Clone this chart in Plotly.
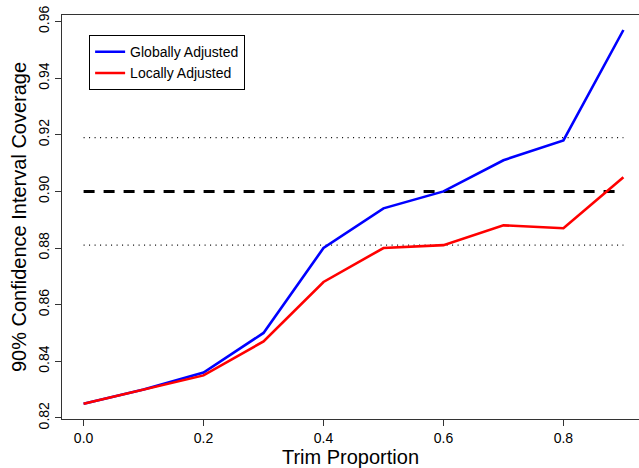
import plotly.graph_objects as go

trim = [0.0, 0.1, 0.2, 0.3, 0.4, 0.5, 0.6, 0.7, 0.8, 0.9]
global_adj = [0.825, 0.830, 0.836, 0.850, 0.880, 0.894, 0.900, 0.911, 0.918, 0.957]
local_adj = [0.825, 0.830, 0.835, 0.847, 0.868, 0.880, 0.881, 0.888, 0.887, 0.905]
ref_x = [0.0, 0.9]
nominal = 0.90
band_low = 0.881
band_high = 0.919
x_ticks = [0.0, 0.2, 0.4, 0.6, 0.8]
x_ticklabels = ["0.0", "0.2", "0.4", "0.6", "0.8"]
y_ticks = [0.82, 0.84, 0.86, 0.88, 0.90, 0.92, 0.94, 0.96]
y_ticklabels = ["0.82", "0.84", "0.86", "0.88", "0.90", "0.92", "0.94", "0.96"]

FONT = "Liberation Sans, Arial, Helvetica, sans-serif"

fig = go.Figure()
for yv in (band_high, band_low):
    fig.add_trace(go.Scatter(x=ref_x, y=[yv, yv], mode="lines",
                             line=dict(color="black", width=1.2, dash="1px,4.5px"),
                             showlegend=False, hoverinfo="skip"))
fig.add_trace(go.Scatter(x=ref_x, y=[nominal, nominal], mode="lines",
                         line=dict(color="black", width=3, dash="11px,9px"),
                         showlegend=False, hoverinfo="skip"))
fig.add_trace(go.Scatter(x=trim, y=global_adj, mode="lines", name="Globally Adjusted",
                         line=dict(color="#0000FF", width=2.6)))
fig.add_trace(go.Scatter(x=trim, y=local_adj, mode="lines", name="Locally Adjusted",
                         line=dict(color="#FF0000", width=2.6)))

fig.update_layout(
    width=639, height=468,
    margin=dict(l=62, r=0, t=15, b=49),
    paper_bgcolor="white", plot_bgcolor="white",
    font=dict(family=FONT, size=14, color="black"),
    legend=dict(x=0.047, y=0.95, xanchor="left", yanchor="top",
                bordercolor="black", borderwidth=1, bgcolor="white",
                font=dict(size=14), traceorder="normal", tracegroupgap=0),
    showlegend=True,
)
fig.update_xaxes(range=[-0.036, 0.926], tickvals=x_ticks, ticktext=x_ticklabels,
                 showgrid=False, zeroline=False, showline=True, linecolor="#333333",
                 linewidth=1, mirror=True, ticks="outside", ticklen=6, tickcolor="#333333",
                 title=dict(text="Trim Proportion", font=dict(size=20), standoff=3),
                 tickfont=dict(size=14))
fig.update_yaxes(range=[0.8196, 0.9623], tickvals=y_ticks, ticktext=y_ticklabels,
                 showgrid=False, zeroline=False, showline=True, linecolor="#333333",
                 linewidth=1, mirror=False, ticks="outside", ticklen=6, tickcolor="#333333",
                 tickangle=-90,
                 title=dict(text="90% Confidence Interval Coverage", font=dict(size=20), standoff=4),
                 tickfont=dict(size=14))

fig.write_html("out.html")
